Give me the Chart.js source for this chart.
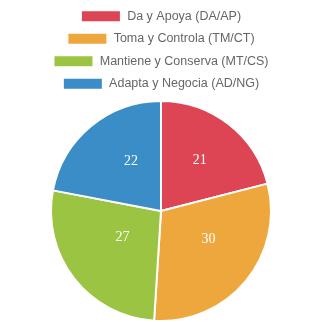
<!DOCTYPE html>
<html>
<head>
<meta charset="utf-8">
<script src="https://cdn.jsdelivr.net/npm/chart.js@4/dist/chart.umd.min.js"></script>
<style>
  html, body { margin: 0; padding: 0; background: #fff; }
  #wrap { width: 322px; height: 322px; }
</style>
</head>
<body>
<div id="wrap"><canvas id="chart"></canvas></div>
<script>
const categories = [
  "Da y Apoya (DA/AP)",
  "Toma y Controla (TM/CT)",
  "Mantiene y Conserva (MT/CS)",
  "Adapta y Negocia (AD/NG)",
];
const values = [21, 30, 27, 22];
const colors = ["#DD4454", "#EEA73C", "#9AC441", "#3A8DC6"];

// Draw the value in the middle of each slice (original labels sit a bit up/right of centre)
const sliceLabels = {
  id: "sliceLabels",
  afterDatasetsDraw(chart) {
    const ctx = chart.ctx;
    const meta = chart.getDatasetMeta(0);
    ctx.save();
    ctx.fillStyle = "#fff";
    ctx.font = "14px 'Liberation Serif', 'Times New Roman', serif";
    ctx.textAlign = "center";
    ctx.textBaseline = "middle";
    meta.data.forEach((arc, i) => {
      const mid = (arc.startAngle + arc.endAngle) / 2;
      const r = arc.outerRadius * 0.5;
      ctx.fillText(String(values[i]), arc.x + 5 + Math.cos(mid) * r, arc.y - 7 + Math.sin(mid) * r);
    });
    ctx.restore();
  },
};

new Chart(document.getElementById("chart").getContext("2d"), {
  type: "pie",
  data: {
    labels: categories,
    datasets: [
      {
        data: values,
        backgroundColor: colors,
        borderColor: "#fff",
        borderWidth: 2,
      },
    ],
  },
  options: {
    responsive: true,
    maintainAspectRatio: false,
    animation: false,
    plugins: {
      legend: {
        position: "top",
        labels: {
          boxWidth: 40,
          boxHeight: 12,
          color: "#666",
          font: { family: "'Liberation Sans', Arial, sans-serif", size: 12.5 },
        },
      },
      tooltip: { enabled: false },
    },
  },
  plugins: [sliceLabels],
});
</script>
</body>
</html>
